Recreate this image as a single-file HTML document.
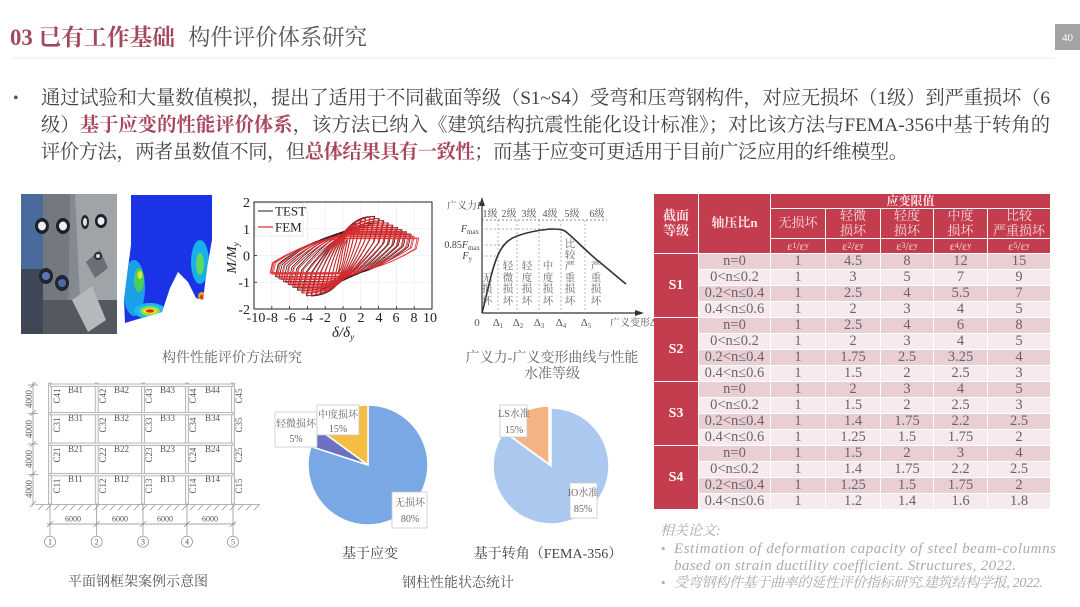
<!DOCTYPE html>
<html><head><meta charset="utf-8">
<style>
html,body{margin:0;padding:0;background:#fff;}
body{width:1080px;height:607px;position:relative;overflow:hidden;font-family:"Liberation Serif","Noto Serif CJK SC",serif;}
svg.main{position:absolute;left:0;top:0;}
.tbl{position:absolute;left:654px;top:194px;display:grid;grid-template-columns:44px 71px 54px 54px 52px 53px 62px;grid-template-rows:14px 29px 14px repeat(16,15px);gap:1px;font-family:"Liberation Serif","Noto Serif CJK SC",serif;}
.tbl div{display:flex;align-items:center;justify-content:center;text-align:center;line-height:1.08;}
.tbl .h{background:#c43d4e;color:#f7d9dd;font-size:13px;}
.tbl .hb{font-weight:bold;color:#fbe3e6;}
.tbl .e{font-size:12px;}
.tbl sub{font-size:8px;vertical-align:-2px;}
.tbl .s{background:#c43d4e;color:#fff;font-weight:bold;font-size:14px;grid-row:span 4;}
.tbl .rd,.tbl .rl{display:contents;}
.tbl .rd>div{background:#e9cfd3;color:#666;font-size:14.5px;}
.tbl .rl>div{background:#f6eaec;color:#666;font-size:14.5px;}
</style></head>
<body>
<svg class="main" width="1080" height="607" viewBox="0 0 1080 607" font-family="Liberation Serif, Noto Serif CJK SC, serif">
<defs>
<clipPath id="plotclip"><rect x="254" y="202" width="178" height="107"/></clipPath>
<clipPath id="femclip"><polygon points="131,195 212,195 212,240 207,268 203,300 196,298 188,282 178,272 170,288 162,312 125,323 124,300 128,268 131,245"/></clipPath>
</defs>

<!-- Header -->
<text x="10" y="45" font-size="23" font-weight="bold" fill="#a3475c" textLength="165" lengthAdjust="spacingAndGlyphs">03 已有工作基础</text>
<text x="188" y="45" font-size="22.5" fill="#555" textLength="179" lengthAdjust="spacingAndGlyphs">构件评价体系研究</text>
<line x1="12" y1="58" x2="1055" y2="58" stroke="#ececec" stroke-width="1"/>
<rect x="1055" y="24" width="25" height="26" fill="#a3a3a3"/>
<text x="1067.5" y="41" font-size="11" fill="#fff" text-anchor="middle">40</text>

<!-- Bullet text -->
<text x="13" y="103" font-size="16" fill="#555">•</text>
<text x="41" y="104" font-size="19.3" fill="#444" textLength="1009" lengthAdjust="spacing">通过试验和大量数值模拟，提出了适用于不同截面等级（S1~S4）受弯和压弯钢构件，对应无损坏（1级）到严重损坏（6</text>
<text x="41" y="131" font-size="19.3" fill="#444" textLength="1009" lengthAdjust="spacing">级）<tspan font-weight="bold" fill="#a8455c">基于应变的性能评价体系</tspan>，该方法已纳入《建筑结构抗震性能化设计标准》；对比该方法与FEMA-356中基于转角的</text>
<text x="41" y="158" font-size="19.3" fill="#444" textLength="867" lengthAdjust="spacing">评价方法，两者虽数值不同，但<tspan font-weight="bold" fill="#a8455c">总体结果具有一致性</tspan>；而基于应变可更适用于目前广泛应用的纤维模型。</text>

<!-- Photo -->
<g>
<rect x="21" y="194" width="96" height="140" fill="#858990"/>
<rect x="21" y="194" width="22" height="75" fill="#4a6a9c"/>
<polygon points="43,194 70,194 68,334 43,334" fill="#74787f"/>
<polygon points="75,194 117,194 117,300 80,300" fill="#a0a3a8"/>
<rect x="21" y="300" width="96" height="34" fill="#55585e"/>
<polygon points="21,269 43,269 43,334 21,334" fill="#3f4656"/>
<polygon points="72,300 92,286 106,320 88,332" fill="#b5b8bd"/>
<polygon points="86,262 100,250 108,268 95,278" fill="#6a6e75"/>
<ellipse cx="42" cy="226" rx="7" ry="8" fill="#1e2024"/><ellipse cx="42" cy="226" rx="4" ry="4.5" fill="#e8eef5"/>
<ellipse cx="63" cy="226" rx="7" ry="8" fill="#1e2024"/><ellipse cx="63" cy="226" rx="4" ry="4.5" fill="#eef2f6"/>
<ellipse cx="85" cy="222" rx="4" ry="7" fill="#25272b"/><ellipse cx="85" cy="222" rx="2" ry="4" fill="#dde3ea"/>
<ellipse cx="101" cy="221" rx="6" ry="7" fill="#1e2024"/><ellipse cx="101" cy="221" rx="3.5" ry="4" fill="#e8eef5"/>
<ellipse cx="46" cy="276" rx="7" ry="8" fill="#22252c"/><ellipse cx="46" cy="276" rx="4" ry="4" fill="#5a78b8"/>
<ellipse cx="62" cy="283" rx="7" ry="8" fill="#22252c"/><ellipse cx="62" cy="283" rx="4" ry="4" fill="#4e6aa8"/>
<ellipse cx="98" cy="256" rx="4" ry="4" fill="#2a2c30"/><ellipse cx="98" cy="256" rx="2" ry="2" fill="#d8dde3"/>
</g>

<!-- FEM -->
<g>
<polygon points="131,195 212,195 212,240 207,268 203,300 196,298 188,282 178,272 170,288 162,312 125,323 124,300 128,268 131,245" fill="#1a33e6"/>
<g clip-path="url(#femclip)">
<ellipse cx="134" cy="288" rx="11" ry="28" fill="#1a9fe8"/>
<ellipse cx="139" cy="280" rx="5" ry="12" fill="#4ccf5a"/>
<ellipse cx="140" cy="275" rx="2.5" ry="4" fill="#e2e23a"/>
<ellipse cx="150" cy="311" rx="16" ry="8" fill="#20b8f0"/>
<ellipse cx="150" cy="311" rx="10" ry="5" fill="#7fe05a"/>
<ellipse cx="150" cy="311" rx="7" ry="3" fill="#f0e020"/>
<ellipse cx="150" cy="311" rx="4" ry="1.6" fill="#e02010"/>
<ellipse cx="200" cy="262" rx="9" ry="22" fill="#18b0e8"/>
<ellipse cx="200" cy="264" rx="4" ry="11" fill="#60d860"/>
<ellipse cx="202" cy="296" rx="4" ry="4" fill="#f0a020"/>
<ellipse cx="202" cy="297" rx="2" ry="2" fill="#e03010"/>
</g>
</g>

<!-- Hysteresis chart -->
<g stroke="#e8e8e8" stroke-width="0.6">
<line x1="271.8" y1="202" x2="271.8" y2="309"/><line x1="289.6" y1="202" x2="289.6" y2="309"/>
<line x1="307.4" y1="202" x2="307.4" y2="309"/><line x1="325.2" y1="202" x2="325.2" y2="309"/>
<line x1="343" y1="202" x2="343" y2="309"/><line x1="360.8" y1="202" x2="360.8" y2="309"/>
<line x1="378.6" y1="202" x2="378.6" y2="309"/><line x1="396.4" y1="202" x2="396.4" y2="309"/>
<line x1="414.2" y1="202" x2="414.2" y2="309"/>
<line x1="254" y1="228.75" x2="432" y2="228.75"/><line x1="254" y1="255.5" x2="432" y2="255.5"/>
<line x1="254" y1="282.25" x2="432" y2="282.25"/>
</g>
<g clip-path="url(#plotclip)" fill="none" stroke-linejoin="round">
<path id="hk" d="" stroke="#1a1a1a" stroke-width="0.8"/>
<path id="hr" d="" stroke="#e0262a" stroke-width="0.85" stroke-opacity="0.9"/>
</g>
<rect x="254" y="202" width="178" height="107" fill="none" stroke="#222" stroke-width="1"/>
<g stroke="#222" stroke-width="0.8">
<line x1="271.8" y1="309" x2="271.8" y2="306"/><line x1="289.6" y1="309" x2="289.6" y2="306"/>
<line x1="307.4" y1="309" x2="307.4" y2="306"/><line x1="325.2" y1="309" x2="325.2" y2="306"/>
<line x1="343" y1="309" x2="343" y2="306"/><line x1="360.8" y1="309" x2="360.8" y2="306"/>
<line x1="378.6" y1="309" x2="378.6" y2="306"/><line x1="396.4" y1="309" x2="396.4" y2="306"/>
<line x1="414.2" y1="309" x2="414.2" y2="306"/>
<line x1="254" y1="228.75" x2="257" y2="228.75"/><line x1="254" y1="255.5" x2="257" y2="255.5"/>
<line x1="254" y1="282.25" x2="257" y2="282.25"/>
</g>
<rect x="255" y="203" width="48" height="33" fill="#fff" fill-opacity="0.85" stroke="#ddd" stroke-width="0.6"/>
<line x1="258" y1="211" x2="273" y2="211" stroke="#222" stroke-width="1"/>
<line x1="258" y1="227" x2="273" y2="227" stroke="#e0262a" stroke-width="1.2"/>
<text x="275" y="215.5" font-size="13" fill="#222">TEST</text>
<text x="275" y="231.5" font-size="13" fill="#222">FEM</text>
<g font-size="14" fill="#222" text-anchor="end">
<text x="250" y="207">2</text><text x="250" y="234">1</text><text x="250" y="260.5">0</text>
<text x="250" y="287">-1</text><text x="250" y="314">-2</text>
</g>
<g font-size="14" fill="#222" text-anchor="middle">
<text x="256" y="322">-10</text><text x="272" y="322">-8</text><text x="290" y="322">-6</text>
<text x="307" y="322">-4</text><text x="325" y="322">-2</text><text x="343" y="322">0</text>
<text x="361" y="322">2</text><text x="379" y="322">4</text><text x="396" y="322">6</text>
<text x="414" y="322">8</text><text x="430" y="322">10</text>
</g>
<text x="343" y="337" font-size="15" font-style="italic" fill="#222" text-anchor="middle">δ/δ<tspan font-size="9" dy="3">y</tspan></text>
<text transform="translate(236,258) rotate(-90)" font-size="14" font-style="italic" fill="#222" text-anchor="middle">M/M<tspan font-size="9" dy="3">y</tspan></text>

<text x="232" y="362" font-size="14" fill="#666" text-anchor="middle">构件性能评价方法研究</text>

<!-- Generalized force-deformation chart -->
<g stroke="#333" fill="#333">
<line x1="482" y1="313" x2="482" y2="201" stroke-width="1.2"/>
<polygon points="479,206 482,197 485,206" stroke="none"/>
<line x1="482" y1="313" x2="637" y2="313" stroke-width="1.2"/>
<polygon points="635,310 644,313 635,316" stroke="none"/>
</g>
<g stroke="#999" stroke-width="0.7" stroke-dasharray="2,2">
<line x1="482" y1="229" x2="552" y2="229"/>
<line x1="482" y1="245" x2="505" y2="245"/>
<line x1="482" y1="256" x2="497" y2="256"/>
<line x1="498" y1="220" x2="498" y2="313"/>
<line x1="517" y1="220" x2="517" y2="313"/>
<line x1="539" y1="220" x2="539" y2="313"/>
<line x1="561" y1="220" x2="561" y2="313"/>
<line x1="585" y1="220" x2="585" y2="313"/>
<line x1="482" y1="220" x2="607" y2="220" stroke="#666"/>
</g>
<path d="M482,313 C488,290 492,268 498,255 C503,244 509,239 517,236 C528,232 540,230 550,229 C556,229 561,229 565,231 C575,239 585,250 597,260 C607,268 616,276 626,284" fill="none" stroke="#333" stroke-width="1.6"/>
<g font-size="10" fill="#555" text-anchor="middle">
<text x="490" y="217">1级</text><text x="509" y="217">2级</text><text x="529" y="217">3级</text>
<text x="550" y="217">4级</text><text x="572" y="217">5级</text><text x="597" y="217">6级</text>
</g>
<text x="447" y="209" font-size="10" fill="#555">广义力<tspan font-style="italic">F</tspan></text>
<g font-size="10" fill="#444" font-style="italic" text-anchor="end">
<text x="479" y="232">F<tspan font-size="7" dy="2" font-style="normal">max</tspan></text>
<text x="480" y="248"><tspan font-style="normal">0.85</tspan>F<tspan font-size="7" dy="2" font-style="normal">max</tspan></text>
<text x="472" y="259">F<tspan font-size="7" dy="2" font-style="normal">y</tspan></text>
</g>
<g font-size="11" fill="#555" text-anchor="middle">
<text x="477" y="326">0</text>
<text x="498" y="326">Δ<tspan font-size="7" dy="2">1</tspan></text>
<text x="518" y="326">Δ<tspan font-size="7" dy="2">2</tspan></text>
<text x="539" y="326">Δ<tspan font-size="7" dy="2">3</tspan></text>
<text x="561" y="326">Δ<tspan font-size="7" dy="2">4</tspan></text>
<text x="586" y="326">Δ<tspan font-size="7" dy="2">5</tspan></text>
</g>
<text x="610" y="326" font-size="10" fill="#555">广义变形Δ</text>
<g font-size="10.5" fill="#666" text-anchor="middle">
<text x="487" y="281">无</text><text x="487" y="292">损</text><text x="487" y="304">坏</text>
<text x="508" y="269">轻</text><text x="508" y="281">微</text><text x="508" y="292">损</text><text x="508" y="304">坏</text>
<text x="527" y="269">轻</text><text x="527" y="281">度</text><text x="527" y="292">损</text><text x="527" y="304">坏</text>
<text x="548" y="269">中</text><text x="548" y="281">度</text><text x="548" y="292">损</text><text x="548" y="304">坏</text>
<text x="570" y="247">比</text><text x="570" y="258">较</text><text x="570" y="269">严</text><text x="570" y="281">重</text><text x="570" y="292">损</text><text x="570" y="304">坏</text>
<text x="596" y="269">严</text><text x="596" y="281">重</text><text x="596" y="292">损</text><text x="596" y="304">坏</text>
</g>
<text x="552" y="362" font-size="14" fill="#666" text-anchor="middle">广义力-广义变形曲线与性能</text>
<text x="552" y="378" font-size="14" fill="#666" text-anchor="middle">水准等级</text>

<!-- Frame drawing -->
<g stroke="#a0a0a0" stroke-width="0.7" fill="#f6f6f6">
<rect x="48.5" y="383" width="3" height="121"/>
<rect x="95.2" y="383" width="3" height="121"/>
<rect x="141.5" y="383" width="3" height="121"/>
<rect x="185.5" y="383" width="3" height="121"/>
<rect x="231.5" y="383" width="3" height="121"/>
<rect x="50" y="384" width="183" height="2.6"/>
<rect x="50" y="412.3" width="183" height="2.6"/>
<rect x="50" y="443" width="183" height="2.6"/>
<rect x="50" y="473.3" width="183" height="2.6"/>
</g>
<g stroke="#888" stroke-width="0.7">
<line x1="35" y1="504.3" x2="260" y2="504.3"/>
<path d="M38,510 l5,-5 M46,510 l5,-5 M54,510 l5,-5 M62,510 l5,-5 M70,510 l5,-5 M78,510 l5,-5 M86,510 l5,-5 M94,510 l5,-5 M102,510 l5,-5 M110,510 l5,-5 M118,510 l5,-5 M126,510 l5,-5 M134,510 l5,-5 M142,510 l5,-5 M150,510 l5,-5 M158,510 l5,-5 M166,510 l5,-5 M174,510 l5,-5 M182,510 l5,-5 M190,510 l5,-5 M198,510 l5,-5 M206,510 l5,-5 M214,510 l5,-5 M222,510 l5,-5 M230,510 l5,-5 M238,510 l5,-5 M246,510 l5,-5 M254,510 l5,-5"/>
<line x1="33" y1="382" x2="33" y2="506"/>
<path d="M30,388 l6,-6 M30,416 l6,-6 M30,447 l6,-6 M30,477 l6,-6 M30,507 l6,-6"/>
<line x1="28" y1="385" x2="38" y2="385"/><line x1="28" y1="413.3" x2="38" y2="413.3"/><line x1="28" y1="444" x2="38" y2="444"/><line x1="28" y1="474.3" x2="38" y2="474.3"/>
<line x1="47" y1="524" x2="236" y2="524"/>
<path d="M47,527 l6,-6 M93.7,527 l6,-6 M140,527 l6,-6 M184,527 l6,-6 M230,527 l6,-6"/>
<line x1="50" y1="504" x2="50" y2="536"/><line x1="96.7" y1="504" x2="96.7" y2="536"/>
<line x1="143" y1="504" x2="143" y2="536"/><line x1="187" y1="504" x2="187" y2="536"/>
<line x1="233" y1="504" x2="233" y2="536"/>
</g>
<g fill="#fff" stroke="#888" stroke-width="0.7">
<circle cx="50" cy="541.7" r="5.5"/><circle cx="96.7" cy="541.7" r="5.5"/><circle cx="143" cy="541.7" r="5.5"/><circle cx="187" cy="541.7" r="5.5"/><circle cx="233" cy="541.7" r="5.5"/>
</g>
<g font-size="8" fill="#555" text-anchor="middle">
<text x="50" y="544.5">1</text><text x="96.7" y="544.5">2</text><text x="143" y="544.5">3</text><text x="187" y="544.5">4</text><text x="233" y="544.5">5</text>
<text x="73" y="521.5">6000</text><text x="120" y="521.5">6000</text><text x="165" y="521.5">6000</text><text x="210" y="521.5">6000</text>
</g>
<g font-size="9" fill="#555" text-anchor="middle">
<text transform="translate(32,399) rotate(-90)">4000</text>
<text transform="translate(32,429) rotate(-90)">4000</text>
<text transform="translate(32,459) rotate(-90)">4000</text>
<text transform="translate(32,489) rotate(-90)">4000</text>
</g>
<g font-size="9" fill="#555">
<text x="68" y="393">B41</text><text x="114" y="393">B42</text><text x="160" y="393">B43</text><text x="205" y="393">B44</text>
<text x="68" y="421">B31</text><text x="114" y="421">B32</text><text x="160" y="421">B33</text><text x="205" y="421">B34</text>
<text x="68" y="452">B21</text><text x="114" y="452">B22</text><text x="160" y="452">B23</text><text x="205" y="452">B24</text>
<text x="68" y="482">B11</text><text x="114" y="482">B12</text><text x="160" y="482">B13</text><text x="205" y="482">B14</text>
</g>
<g font-size="9" fill="#555" text-anchor="middle">
<text transform="translate(60,396) rotate(-90)">C41</text><text transform="translate(106,396) rotate(-90)">C42</text><text transform="translate(152,396) rotate(-90)">C43</text><text transform="translate(196,396) rotate(-90)">C44</text><text transform="translate(242,396) rotate(-90)">C45</text>
<text transform="translate(60,425) rotate(-90)">C31</text><text transform="translate(106,425) rotate(-90)">C32</text><text transform="translate(152,425) rotate(-90)">C33</text><text transform="translate(196,425) rotate(-90)">C34</text><text transform="translate(242,425) rotate(-90)">C35</text>
<text transform="translate(60,455) rotate(-90)">C21</text><text transform="translate(106,455) rotate(-90)">C22</text><text transform="translate(152,455) rotate(-90)">C23</text><text transform="translate(196,455) rotate(-90)">C24</text><text transform="translate(242,455) rotate(-90)">C25</text>
<text transform="translate(60,486) rotate(-90)">C11</text><text transform="translate(106,486) rotate(-90)">C12</text><text transform="translate(152,486) rotate(-90)">C13</text><text transform="translate(196,486) rotate(-90)">C14</text><text transform="translate(242,486) rotate(-90)">C15</text>
</g>
<text x="138" y="586" font-size="14" fill="#555" text-anchor="middle">平面钢框架案例示意图</text>

<!-- Pies -->
<g stroke="#fff" stroke-width="1.5">
<path d="M368,465 L368,405 A60,60 0 1 1 310.93,446.46 Z" fill="#79a8e4"/>
<path d="M368,465 L310.93,446.46 A60,60 0 0 1 319.46,429.73 Z" fill="#6d71c2"/>
<path d="M368,465 L319.46,429.73 A60,60 0 0 1 368,405 Z" fill="#f4be42"/>
<path d="M551,466 L551,408 A58,58 0 1 1 504.08,431.91 Z" fill="#abc9ef"/>
<path d="M549,464 L502.08,429.91 A58,58 0 0 1 549,406 Z" fill="#f5b384"/>
</g>
<g fill="#fff" stroke="#c8c8c8" stroke-width="0.8">
<rect x="275" y="412" width="42" height="35"/>
<rect x="317" y="405" width="42" height="30"/>
<rect x="392" y="492" width="35" height="36"/>
<rect x="500" y="405" width="27" height="32"/>
<rect x="570" y="483" width="27" height="35"/>
</g>
<g font-size="10" fill="#666" text-anchor="middle">
<text x="296" y="427">轻微损坏</text><text x="296" y="442">5%</text>
<text x="338" y="418">中度损坏</text><text x="338" y="432">15%</text>
<text x="410" y="506">无损坏</text><text x="410" y="522">80%</text>
<text x="514" y="417">LS水准</text><text x="514" y="433">15%</text>
<text x="583" y="496">IO水准</text><text x="583" y="512">85%</text>
</g>
<text x="370" y="558" font-size="14" fill="#444" text-anchor="middle">基于应变</text>
<text x="548" y="558" font-size="14" fill="#444" text-anchor="middle">基于转角（FEMA-356）</text>
<text x="458" y="587" font-size="14" fill="#555" text-anchor="middle">钢柱性能状态统计</text>

<!-- References -->
<g font-style="italic" fill="#aaa">
<text x="660" y="535" font-size="14">相关论文:</text>
<text x="661" y="553" font-size="13" font-style="normal">•</text>
<text x="674" y="553" font-size="15" textLength="382" lengthAdjust="spacing">Estimation of deformation capacity of steel beam-columns</text>
<text x="674" y="570" font-size="15" textLength="342" lengthAdjust="spacing">based on strain ductility coefficient. Structures, 2022.</text>
<text x="661" y="587" font-size="13" font-style="normal">•</text>
<text x="674" y="587" font-size="14" textLength="369" lengthAdjust="spacing">受弯钢构件基于曲率的延性评价指标研究.建筑结构学报, 2022.</text>
</g>
</svg>

<!-- Table -->
<div class="tbl">
<div class="h hb" style="grid-column:1;grid-row:1 / span 3;">截面<br>等级</div>
<div class="h hb" style="grid-column:2;grid-row:1 / span 3;">轴压比n</div>
<div class="h hb" style="grid-column:3 / span 5;grid-row:1;font-size:12px;">应变限值</div>
<div class="h">无损坏</div><div class="h">轻微<br>损坏</div><div class="h">轻度<br>损坏</div><div class="h">中度<br>损坏</div><div class="h">比较<br>严重损坏</div>
<div class="h e">ε<sub>1</sub>/ε<sub>y</sub></div><div class="h e">ε<sub>2</sub>/ε<sub>y</sub></div><div class="h e">ε<sub>3</sub>/ε<sub>y</sub></div><div class="h e">ε<sub>4</sub>/ε<sub>y</sub></div><div class="h e">ε<sub>5</sub>/ε<sub>y</sub></div>

<div class="s">S1</div>
<div class="rd"><div>n=0</div><div>1</div><div>4.5</div><div>8</div><div>12</div><div>15</div></div>
<div class="rl"><div>0&lt;n≤0.2</div><div>1</div><div>3</div><div>5</div><div>7</div><div>9</div></div>
<div class="rd"><div>0.2&lt;n≤0.4</div><div>1</div><div>2.5</div><div>4</div><div>5.5</div><div>7</div></div>
<div class="rl"><div>0.4&lt;n≤0.6</div><div>1</div><div>2</div><div>3</div><div>4</div><div>5</div></div>

<div class="s">S2</div>
<div class="rd"><div>n=0</div><div>1</div><div>2.5</div><div>4</div><div>6</div><div>8</div></div>
<div class="rl"><div>0&lt;n≤0.2</div><div>1</div><div>2</div><div>3</div><div>4</div><div>5</div></div>
<div class="rd"><div>0.2&lt;n≤0.4</div><div>1</div><div>1.75</div><div>2.5</div><div>3.25</div><div>4</div></div>
<div class="rl"><div>0.4&lt;n≤0.6</div><div>1</div><div>1.5</div><div>2</div><div>2.5</div><div>3</div></div>

<div class="s">S3</div>
<div class="rd"><div>n=0</div><div>1</div><div>2</div><div>3</div><div>4</div><div>5</div></div>
<div class="rl"><div>0&lt;n≤0.2</div><div>1</div><div>1.5</div><div>2</div><div>2.5</div><div>3</div></div>
<div class="rd"><div>0.2&lt;n≤0.4</div><div>1</div><div>1.4</div><div>1.75</div><div>2.2</div><div>2.5</div></div>
<div class="rl"><div>0.4&lt;n≤0.6</div><div>1</div><div>1.25</div><div>1.5</div><div>1.75</div><div>2</div></div>

<div class="s">S4</div>
<div class="rd"><div>n=0</div><div>1</div><div>1.5</div><div>2</div><div>3</div><div>4</div></div>
<div class="rl"><div>0&lt;n≤0.2</div><div>1</div><div>1.4</div><div>1.75</div><div>2.2</div><div>2.5</div></div>
<div class="rd"><div>0.2&lt;n≤0.4</div><div>1</div><div>1.25</div><div>1.5</div><div>1.75</div><div>2</div></div>
<div class="rl"><div>0.4&lt;n≤0.6</div><div>1</div><div>1.2</div><div>1.4</div><div>1.6</div><div>1.8</div></div>
</div>

<script>
(function(){
var X=function(d){return (343+d*8.9).toFixed(1)},Y=function(m){return (255.5-m*26.75).toFixed(1)};
function mp(a){return a<=3.5?1.45*(1-Math.exp(-a))/(1-Math.exp(-3.5)):1.45-(a-3.5)*0.16;}
function mn(a){return a<=4?1.5*(1-Math.exp(-a))/(1-Math.exp(-4)):1.5-(a-4)*0.2;}
function loop(a,b,sp,sn,Lm){
 var p=mp(a)*sp,n=mn(b)*sn,s=p+n,pts=[],x,u,L;
 var bx=-b+0.2*s,by=-n+0.3*s; if(bx>a)bx=a;
 pts.push([-b,-n],[bx,by]);
 L=Math.min(a-bx,Lm); if(L<0.05)L=0.05;
 for(x=bx+0.25;x<a;x+=0.25){u=Math.min(1,(x-bx)/L);pts.push([x,by+0.7*s*(1-(1-u)*(1-u))]);}
 pts.push([a,p]);
 var dx=a-0.2*s,dy=p-0.3*s; if(dx<-b)dx=-b;
 pts.push([dx,dy]);
 L=Math.min(dx+b,Lm); if(L<0.05)L=0.05;
 for(x=dx-0.25;x>-b;x-=0.25){u=Math.min(1,(dx-x)/L);pts.push([x,dy-0.7*s*(1-(1-u)*(1-u))]);}
 pts.push([-b,-n]);
 return 'M'+pts.map(function(q){return X(q[0])+','+Y(q[1]);}).join(' L')+' ';
}
var r='',k='',a;
for(a=0.5;a<=8.51;a+=0.5){r+=loop(a,Math.min(a,8.2),1,1,9);r+=loop(a*0.98,Math.min(a*0.98,8.1),0.93,0.94,8.5);}
for(a=0.5;a<=7.51;a+=0.5){k+=loop(a*1.02,Math.min(a*1.03,7.6),1.02,1.02,8.5);}
document.getElementById('hr').setAttribute('d',r);
document.getElementById('hk').setAttribute('d',k);
})();
</script>
</body></html>
